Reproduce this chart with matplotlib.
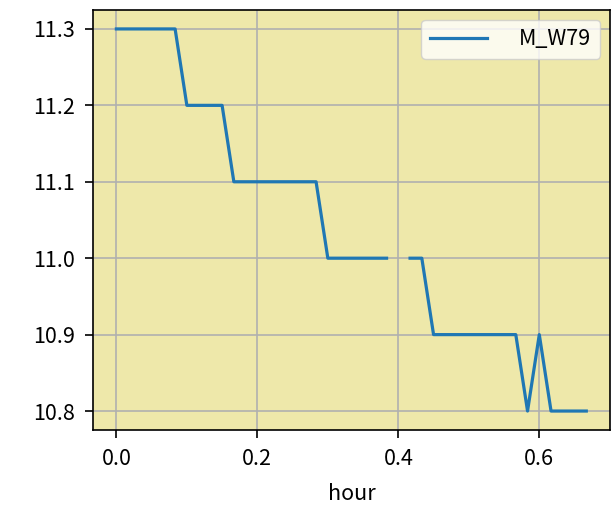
import numpy as np
import matplotlib
matplotlib.use("Agg")
import matplotlib.pyplot as plt

plt.rcParams['font.family'] = ['Noto Sans CJK SC', 'DejaVu Sans']
plt.rcParams['axes.unicode_minus'] = False

# one reading per minute, hour = minute / 60
minutes = list(range(41))
m_w79 = [11.3, 11.3, 11.3, 11.3, 11.3, 11.3,
         11.2, 11.2, 11.2, 11.2,
         11.1, 11.1, 11.1, 11.1, 11.1, 11.1, 11.1, 11.1,
         11.0, 11.0, 11.0, 11.0, 11.0, 11.0,
         np.nan,
         11.0, 11.0,
         10.9, 10.9, 10.9, 10.9, 10.9, 10.9, 10.9, 10.9,
         10.8, 10.9, 10.8, 10.8, 10.8, 10.8]
hours = np.array(minutes) / 60.0

fig, ax = plt.subplots(figsize=(6.11, 5.17), dpi=100)
fig.subplots_adjust(left=0.152, right=0.998, top=0.981, bottom=0.168)
ax.set_facecolor('#EEE8AA')
ax.plot(hours, m_w79, color='#1f77b4', lw=2.3, label='M_W79')
ax.grid(True, color='#b0b0b0', lw=1.2)
ax.set_axisbelow(True)
ax.set_yticks([10.8, 10.9, 11.0, 11.1, 11.2, 11.3])
ax.set_xticks([0.0, 0.2, 0.4, 0.6])
ax.set_xlabel('hour', fontsize=15.5, labelpad=9)
ax.tick_params(labelsize=15.5, length=6, width=1.2, pad=7)
for s in ax.spines.values():
    s.set_linewidth(1.2)
ax.legend(loc='upper right', fontsize=15.5, handlelength=2.65,
          handletextpad=1.5, borderaxespad=0.45)
fig.savefig('out.png', dpi=100)
